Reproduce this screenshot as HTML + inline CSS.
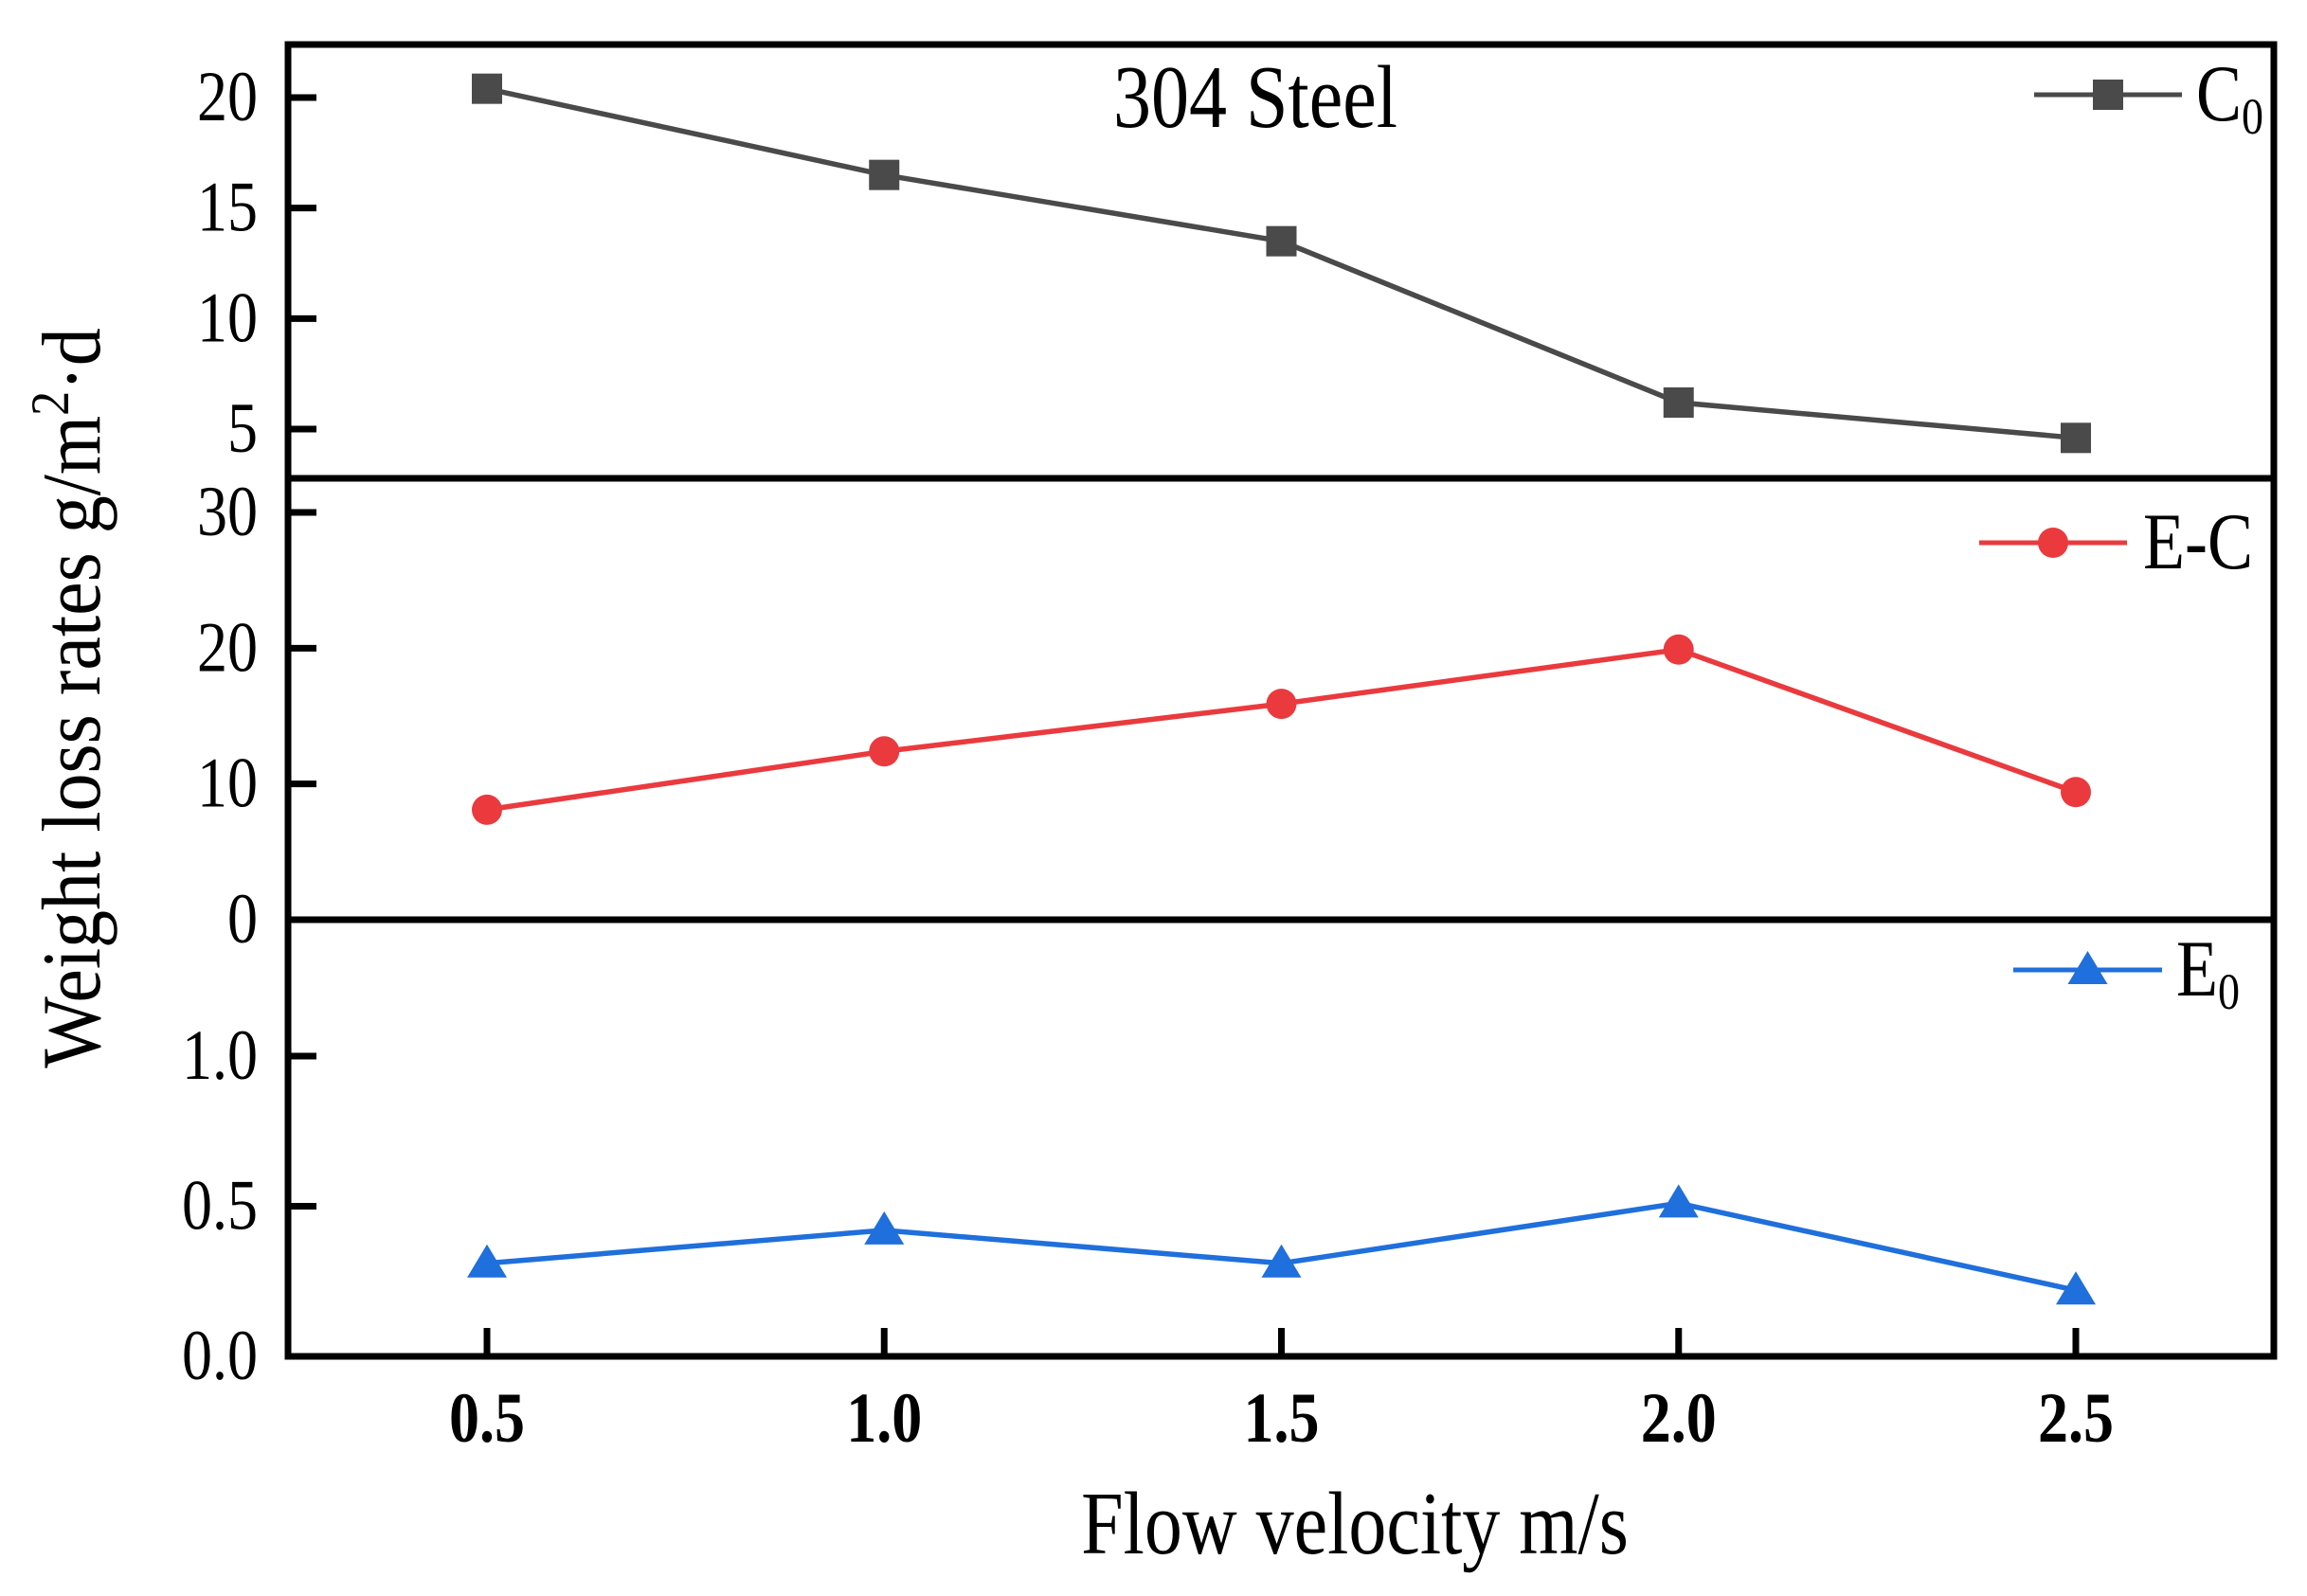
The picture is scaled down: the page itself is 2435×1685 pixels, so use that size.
<!DOCTYPE html>
<html><head><meta charset="utf-8"><style>
html,body{margin:0;padding:0;background:#fff;}
svg{display:block;font-family:"Liberation Serif",serif;}
</style></head><body>
<svg id="chart" width="2435" height="1685" viewBox="0 0 2435 1685" xmlns="http://www.w3.org/2000/svg">
<rect width="2435" height="1685" fill="#fff"/>
<g id="marks"></g>
<g id="axes"></g>
</svg>
<script>
const xCats = [0.5, 1.0, 1.5, 2.0, 2.5];
const xTickLabels = ["0.5", "1.0", "1.5", "2.0", "2.5"];
const c0Values = [20.4, 16.5, 13.5, 6.2, 4.6];
const ecValues = [8.1, 12.4, 15.9, 19.9, 9.4];
const e0Values = [0.31, 0.42, 0.31, 0.51, 0.22];
const c0Ticks = [5, 10, 15, 20];
const ecTicks = [0, 10, 20, 30];
const e0Ticks = [0.0, 0.5, 1.0];
const e0TickLabels = ["0.0", "0.5", "1.0"];

const NS = "http://www.w3.org/2000/svg";
const L = 304, R = 2400, T = 47, S1 = 505, S2 = 971, B = 1432;
function xs(v){ return 514 + (v - 0.5) * (2191 - 514) / 2.0; }
function yTop(v){ return 103 + (20 - v) * (453 - 103) / 15; }
function yMid(v){ return 971 - v * (971 - 541) / 30; }
function yBot(v){ return 1432 - v * 317; }

function el(tag, attrs, parent){
  const e = document.createElementNS(NS, tag);
  for (const k in attrs) e.setAttribute(k, attrs[k]);
  parent.appendChild(e);
  return e;
}
const marks = document.getElementById('marks');
const axes = document.getElementById('axes');

function marker(type, x, y, color, parent){
  let m;
  if (type === 'square') m = el('rect', {x: x-16, y: y-16, width: 32, height: 32, fill: color}, parent);
  else if (type === 'circle') m = el('circle', {cx: x, cy: y, r: 16, fill: color}, parent);
  else m = el('polygon', {points: `${x},${y-20} ${x-21},${y+15} ${x+21},${y+15}`, fill: color}, parent);
  return m;
}

function series(vals, yf, color, type, name){
  const g = el('g', {}, marks);
  
  
  const pts = vals.map((v, i) => `${xs(xCats[i])},${yf(v)}`).join(' ');
  const pl = el('polyline', {points: pts, fill: 'none', stroke: color, 'stroke-width': 5.5}, g);
  
  
  vals.forEach((v, i) => {
    const m = marker(type, xs(xCats[i]), yf(v), color, g);
    
    
  });
}
series(c0Values, yTop, '#4a4a4a', 'square', 'c0');
series(ecValues, yMid, '#ea3a3e', 'circle', 'e-c');
series(e0Values, yBot, '#1f6fdc', 'triangle', 'e0');

const frame = el('g', {stroke: '#000', 'stroke-width': 7, fill: 'none'}, axes);


el('rect', {x: L, y: T, width: R-L, height: B-T}, frame);
el('line', {x1: L, y1: S1, x2: R, y2: S1}, frame);
el('line', {x1: L, y1: S2, x2: R, y2: S2}, frame);

function stretchText(x, y, size, anchor, weight, parent){
  return el('text', {transform: `translate(${x},${y}) scale(1,1.18)`, x: 0, y: 0, 'font-size': size, 'text-anchor': anchor, 'font-weight': weight, fill: '#000'}, parent);
}

function yTicks(ticks, labels, yf, name){
  ticks.forEach((t, i) => {
    const y = yf(t);
    const tk = el('line', {x1: L, y1: y, x2: L+30, y2: y, stroke: '#000', 'stroke-width': 7}, axes);
    
    
    const tx = stretchText(L-32, y+24, 64, 'end', 'normal', axes);
    tx.textContent = labels ? labels[i] : String(t);
    
    
  });
}
yTicks(c0Ticks, null, yTop, 'c0-y');
yTicks(ecTicks, null, yMid, 'e-c-y');
yTicks(e0Ticks, e0TickLabels, yBot, 'e0-y');

xCats.forEach((c, i) => {
  const x = xs(c);
  const tk = el('line', {x1: x, y1: B, x2: x, y2: B-30, stroke: '#000', 'stroke-width': 7}, axes);
  
  
  const tx = stretchText(x, 1522, 64, 'middle', 'bold', axes);
  tx.textContent = xTickLabels[i];
  
  
});

function legend(x1, x2, y, color, type, label, sub, tx, name){
  const g = el('g', {}, axes);
  
  
  el('line', {x1: x1, y1: y, x2: x2, y2: y, stroke: color, 'stroke-width': 5}, g);
  marker(type, (x1+x2)/2, y, color, g);
  const t = stretchText(tx, y+27, 72, 'start', 'normal', g);
  t.textContent = label;
  if (sub){
    const s = el('tspan', {'font-size': 46, dy: 12}, t);
    s.textContent = sub;
  }
}
legend(2147, 2303, 100, '#4a4a4a', 'square', 'C', '0', 2318, 'c0');
legend(2089, 2245, 573, '#ea3a3e', 'circle', 'E-C', '', 2262, 'e-c');
legend(2125, 2282, 1024, '#1f6fdc', 'triangle', 'E', '0', 2297, 'e0');

const svg = document.getElementById('chart');
const t1 = stretchText(1325, 134, 80, 'middle', 'normal', svg);
t1.textContent = '304 Steel';


const t2 = stretchText(1430, 1640, 80, 'middle', 'normal', svg);
t2.textContent = 'Flow velocity m/s';


const t3 = el('text', {transform: 'translate(105,737) rotate(-90) scale(1,1.1)', 'font-size': 80, 'text-anchor': 'middle', fill: '#000'}, svg);
t3.innerHTML = 'Weight loss rates g/m<tspan dy="-30" font-size="52">2</tspan><tspan dy="30">·d</tspan>';


</script>
</body></html>
